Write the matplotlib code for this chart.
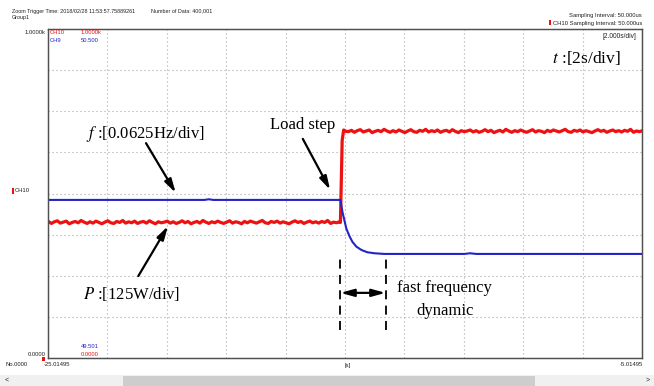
import numpy as np
import matplotlib
matplotlib.use("Agg")
from matplotlib import pyplot as plt

plt.rcParams['mathtext.fontset'] = 'stix'

# --- time axis of the recorder screen (s)
t_start = -25.01495
t_end = -5.01495
t_step = -15.17      # load step instant
t_settle = -13.65    # end of the fast frequency dynamic

# --- P (CH10) trace, W, sampled every 0.1 s before / after the step
p_pre_time = np.arange(100) * 0.1 - 25.1
p_pre = [411, 415, 409, 414, 417, 410, 413, 416, 408, 412,
         415, 411, 418, 413, 409, 414, 410, 416, 412, 408,
         413, 417, 411, 409, 415, 412, 418, 410, 414, 411,
         416, 409, 413, 415, 410, 417, 412, 408, 414, 411,
         413, 416, 410, 414, 409, 412, 417, 411, 415, 408,
         412, 415, 410, 418, 413, 409, 414, 411, 416, 412,
         409, 413, 417, 410, 414, 412, 408, 415, 411, 416,
         413, 410, 414, 418, 411, 409, 415, 412, 416, 410,
         414, 411, 408, 413, 417, 412, 415, 409, 413, 416,
         411, 414, 410, 415, 412, 418, 409, 413, 411, 414]
p_step_time = [-15.17, -15.14, -15.11, -15.06, -14.98]
p_step = [412, 540, 662, 693, 689]
p_post_time = np.arange(100) * 0.1 - 14.9
p_post = [688, 692, 686, 691, 694, 687, 690, 693, 685, 689,
          692, 688, 695, 690, 686, 691, 687, 693, 689, 685,
          690, 694, 688, 686, 692, 689, 695, 687, 691, 688,
          693, 686, 690, 692, 687, 694, 689, 685, 691, 688,
          690, 693, 687, 691, 686, 689, 694, 688, 692, 685,
          689, 692, 687, 695, 690, 686, 691, 688, 693, 689,
          686, 690, 694, 687, 691, 689, 685, 692, 688, 693,
          690, 687, 691, 695, 688, 686, 692, 689, 693, 687,
          691, 688, 685, 690, 694, 689, 692, 686, 690, 693,
          688, 691, 687, 692, 689, 695, 686, 690, 688, 691]

# --- f (CH9) trace, Hz
f_time = [-25.02, -22.0, -19.75, -19.6, -19.45, -17.0, -15.17, -15.10, -15.03,
          -14.97, -14.86, -14.76, -14.63, -14.46, -14.26, -14.02, -13.69,
          -11.0, -10.8, -10.6, -8.0, -5.0]
f_vals = [49.981, 49.981, 49.981, 49.983, 49.981, 49.981, 49.981, 49.944, 49.917,
          49.894, 49.870, 49.853, 49.839, 49.829, 49.822, 49.819, 49.817,
          49.817, 49.819, 49.817, 49.817, 49.817]

p_range = (0, 1000)
f_range = (49.501, 50.500)

red = '#ee1111'
blue = '#2323c8'
grey = '#505050'

fig = plt.figure(figsize=(6.54, 3.86), dpi=100)
ax = fig.add_axes([48 / 654, 28 / 386, 594 / 654, 329 / 386])
ax2 = ax.twinx()

ax.set_xlim(t_start, t_end)
ax.set_ylim(*p_range)
ax2.set_ylim(*f_range)
ax.set_xticks(np.linspace(t_start, t_end, 11))
ax.set_yticks(np.linspace(p_range[0], p_range[1], 9))
ax.grid(True, color='#a5a5a5', linestyle=(0, (1, 2.6)), lw=0.8)
ax.tick_params(length=0, labelbottom=False, labelleft=False)
ax2.tick_params(length=0, labelright=False)
for a in (ax, ax2):
    for s in a.spines.values():
        s.set_color(grey)
        s.set_linewidth(0.9)

p_t = np.concatenate([p_pre_time, p_step_time, p_post_time])
p_v = np.concatenate([p_pre, p_step, p_post])
ax.plot(p_t, p_v, color=red, lw=2.3)
ax2.plot(f_time, f_vals, color=blue, lw=1.5)

# --- annotations
serif = 'Liberation Serif'
tr = ax2.transAxes
arrow = dict(arrowstyle='-|>,head_length=0.8,head_width=0.22', color='black', lw=1.6,
             shrinkA=0, shrinkB=0)
ax2.text(0.163, 0.682, r'$f$ :[0.0625Hz/div]', transform=tr, fontsize=12,
         family=serif, ha='center', va='center')
ax2.annotate('', xy=(0.215, 0.502), xytext=(0.165, 0.653), xycoords=tr, arrowprops=arrow)
ax2.text(0.140, 0.196, r'$P$ :[125W/div]', transform=tr, fontsize=12,
         family=serif, ha='center', va='center')
ax2.annotate('', xy=(0.202, 0.401), xytext=(0.152, 0.249), xycoords=tr, arrowprops=arrow)
ax2.text(0.429, 0.708, 'Load step', transform=tr, fontsize=12,
         family=serif, ha='center', va='center')
ax2.annotate('', xy=(0.475, 0.511), xytext=(0.429, 0.666), xycoords=tr, arrowprops=arrow)
ax2.text(0.906, 0.912, r'$t$ :[2s/div]', transform=tr, fontsize=12.5,
         family=serif, ha='center', va='center')
ax2.text(0.668, 0.213, 'fast frequency', transform=tr, fontsize=12,
         family=serif, ha='center', va='center')
ax2.text(0.668, 0.143, 'dynamic', transform=tr, fontsize=12,
         family=serif, ha='center', va='center')

xt = ax2.get_xaxis_transform()
for tx in (t_step, t_settle):
    ax2.plot([tx, tx], [0.085, 0.313], transform=xt, color='black', lw=1.3,
             linestyle=(0, (5, 3.5)))
ax2.annotate('', xy=(t_settle, 0.198), xytext=(t_step, 0.198), xycoords=xt,
             arrowprops=dict(arrowstyle='<|-|>,head_length=0.8,head_width=0.22',
                             color='black', lw=1.6, shrinkA=0, shrinkB=0))

# --- recorder screen labels
small = ['Liberation Sans']


def px(x, y):
    return x / 654, 1 - y / 386


def label(x, y, s, color='#202020', ha='left', size=4.2):
    fig.text(*px(x, y), s, color=color, ha=ha, va='center', fontsize=size, family=small)


label(12, 11, 'Zoom Trigger Time: 2018/02/28 11:53:57.75889261', size=3.9)
label(12, 17, 'Group1', size=3.9)
label(151, 11, 'Number of Data: 400,001', size=3.9)
label(642, 15, 'Sampling Interval: 50.000us', ha='right')
label(642, 23, 'CH10 Sampling Interval: 50.000us', ha='right')
fig.patches.append(plt.Rectangle(px(549, 25), 2 / 654, 5 / 386, transform=fig.transFigure,
                                 color=red, lw=0))
label(46, 33, '1.0000k', ha='right')
label(46, 355, '0.0000', ha='right')
label(50, 33, 'CH10', color=red)
label(81, 33, '1.0000k', color=red)
label(50, 40, 'CH9', color=blue)
label(81, 40, '50.500', color=blue)
label(81, 347, '49.501', color=blue)
label(81, 354, '0.0000', color=red)
label(636, 37, '[2.000s/div]', ha='right', size=4.8)
label(15, 191, 'CH10')
fig.patches.append(plt.Rectangle(px(12, 193.5), 2 / 654, 5 / 386, transform=fig.transFigure,
                                 color=red, lw=0))
fig.patches.append(plt.Rectangle(px(42, 361), 3 / 654, 4 / 386, transform=fig.transFigure,
                                 color=red, lw=0))
label(5, 365, 'No.0000')
label(44, 365, '-25.01495')
label(345, 365, '[s]')
label(643, 365, '-5.01495', ha='right')

# scrollbar
fig.patches.append(plt.Rectangle((0, 0), 1, 11 / 386, transform=fig.transFigure,
                                 color='#f0f0f0', lw=0))
fig.patches.append(plt.Rectangle(px(123, 386), (535 - 123) / 654, 10 / 386,
                                 transform=fig.transFigure, color='#cdcdcd', lw=0))
label(5, 380, '<', size=5)
label(646, 380, '>', size=5)

fig.savefig('out.png', dpi=100)
